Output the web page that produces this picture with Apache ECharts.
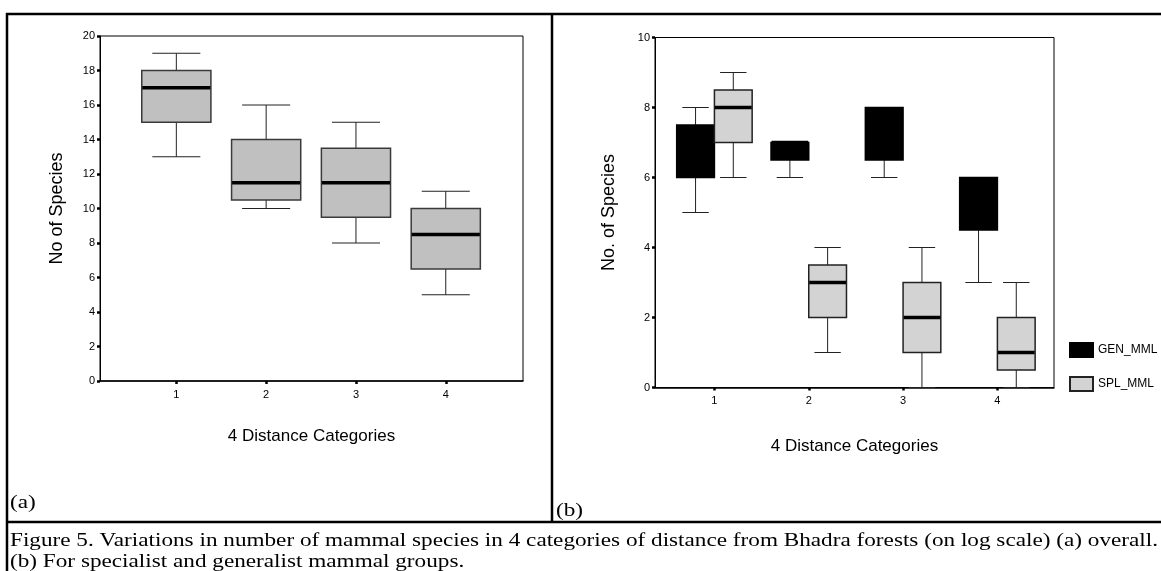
<!DOCTYPE html>
<html><head><meta charset="utf-8">
<script src="https://cdn.jsdelivr.net/npm/echarts@6/dist/echarts.min.js"></script>
<style>html,body{margin:0;padding:0;background:#fff}#c{width:1161px;height:571px}</style>
</head><body><div id="c"></div>
<script>
// ---- data ----
const categories = [1, 2, 3, 4];
const yTicksA = [0, 2, 4, 6, 8, 10, 12, 14, 16, 18, 20];
const yTicksB = [0, 2, 4, 6, 8, 10];
// (a) overall
const overallMin    = [13, 10, 8, 5];
const overallQ1     = [15, 10.5, 9.5, 6.5];
const overallMedian = [17, 11.5, 11.5, 8.5];
const overallQ3     = [18, 14, 13.5, 10];
const overallMax    = [19, 16, 15, 11];
// (b) generalists
const genMin    = [5, 6, 6, 3];
const genQ1     = [6, 6.5, 6.5, 4.5];
const genMedian = [7, 7, 7, 5];
const genQ3     = [7.5, 7, 8, 6];
const genMax    = [8, 7, 8, 6];
// (b) specialists
const splMin    = [6, 1, 0, 0];
const splQ1     = [7, 2, 1, 0.5];
const splMedian = [8, 3, 2, 1];
const splQ3     = [8.5, 3.5, 3, 2];
const splMax    = [9, 4, 4, 3];

const captionLine1 = 'Figure 5. Variations in number of mammal species in 4 categories of distance from Bhadra forests (on log scale) (a) overall.';
const captionLine2 = '(b) For specialist and generalist mammal groups.';

function rows(mn, q1, md, q3, mx) {
  return categories.map((c, i) => [c, mn[i], q1[i], md[i], q3[i], mx[i]]);
}

const SANS = '"Liberation Sans", Arial, sans-serif';
const SERIF = '"Liberation Serif", "Times New Roman", serif';

function boxRenderer(offset, boxFrac, capFrac, fill, stroke, medColor) {
  return function (params, api) {
    const c = api.value(0);
    const unit = api.size([1, 0])[0];
    const cx = api.coord([c, 0])[0] + offset * unit;
    const py = v => api.coord([c, v])[1];
    const mn = py(api.value(1)), q1 = py(api.value(2)), md = py(api.value(3)),
          q3 = py(api.value(4)), mx = py(api.value(5));
    const bw = boxFrac * unit, cw = capFrac * unit;
    const ln = (x1, y1, x2, y2, w, col) => ({ type: 'line', shape: { x1, y1, x2, y2 }, style: { stroke: col, lineWidth: w } });
    return {
      type: 'group', children: [
        ln(cx, q1, cx, mn, 1, '#222'),
        ln(cx, q3, cx, mx, 1, '#222'),
        ln(cx - cw / 2, mn, cx + cw / 2, mn, 1, '#222'),
        ln(cx - cw / 2, mx, cx + cw / 2, mx, 1, '#222'),
        { type: 'rect', shape: { x: cx - bw / 2, y: q3, width: bw, height: q1 - q3 }, style: { fill: fill, stroke: stroke, lineWidth: 1.5 } },
        ln(cx - bw / 2 + 0.5, md, cx + bw / 2 - 0.5, md, 3.5, medColor)
      ]
    };
  };
}

// stretch caption across the width like the reference
const CAP_SIZE = 19;
const cv = document.createElement('canvas').getContext('2d');
cv.font = CAP_SIZE + 'px ' + SERIF;
const capScale = 1148 / cv.measureText(captionLine1).width;

function xAxisCfg(gi, min, max, nameGap) {
  return {
    type: 'value', gridIndex: gi, min: min, max: max,
    name: '4 Distance Categories', nameLocation: 'middle', nameGap: nameGap,
    nameTextStyle: { fontSize: 17, color: '#000', fontFamily: SANS },
    axisLine: { show: true, lineStyle: { color: '#000', width: 1.5 } },
    axisTick: { show: true, customValues: categories, length: 3, lineStyle: { color: '#000', width: 2.5 } },
    axisLabel: { customValues: categories, fontSize: 11, color: '#000', margin: 8, fontFamily: SANS },
    splitLine: { show: false }
  };
}
function yAxisCfg(gi, ticks, name, nameGap) {
  return {
    type: 'value', gridIndex: gi, min: ticks[0], max: ticks[ticks.length - 1], interval: ticks[1] - ticks[0],
    name: name, nameLocation: 'middle', nameGap: nameGap, nameRotate: 90,
    nameTextStyle: { fontSize: 18, color: '#000', fontFamily: SANS },
    axisLine: { show: true, lineStyle: { color: '#000', width: 1 } },
    axisTick: { show: true, length: 3, lineStyle: { color: '#000', width: 2.5 } },
    axisLabel: { fontSize: 11, color: '#000', margin: 5, fontFamily: SANS },
    splitLine: { show: false }
  };
}

function label(text, x, y, size) {
  return { type: 'text', x: x, y: y, scaleX: capScale,
    style: { text: text, fontSize: size, fontFamily: 'Liberation Serif', fill: '#000', align: 'left', verticalAlign: 'middle' } };
}

const chart = echarts.init(document.getElementById('c'), null, { renderer: 'canvas' });
chart.setOption({
  animation: false,
  backgroundColor: '#fff',
  textStyle: { fontFamily: SANS },
  grid: [
    { left: 100, top: 36, width: 423, height: 345, show: true, borderColor: '#000', borderWidth: 1, backgroundColor: 'transparent' },
    { left: 655, top: 37.5, width: 399, height: 350, show: true, borderColor: '#000', borderWidth: 1, backgroundColor: 'transparent' }
  ],
  xAxis: [xAxisCfg(0, 0.15, 4.86, 47), xAxisCfg(1, 0.37, 4.6, 50)],
  yAxis: [yAxisCfg(0, yTicksA, 'No of Species', 34), yAxisCfg(1, yTicksB, 'No. of Species', 37)],
  legend: {
    data: ['GEN_MML', 'SPL_MML'], orient: 'vertical', left: 1064, top: 337,
    itemWidth: 23, itemHeight: 14, itemGap: 18, selectedMode: false, icon: 'rect',
    textStyle: { fontSize: 12, color: '#000', fontFamily: SANS }
  },
  series: [
    {
      name: 'Overall', type: 'custom', xAxisIndex: 0, yAxisIndex: 0, clip: false,
      encode: { x: 0, y: [1, 2, 3, 4, 5] },
      renderItem: boxRenderer(0, 0.77, 0.535, '#c0c0c0', '#3a3a3a', '#000'),
      data: rows(overallMin, overallQ1, overallMedian, overallQ3, overallMax)
    },
    {
      name: 'GEN_MML', type: 'custom', xAxisIndex: 1, yAxisIndex: 1, clip: false,
      encode: { x: 0, y: [1, 2, 3, 4, 5] },
      itemStyle: { color: '#000', borderColor: '#000', borderWidth: 1 },
      renderItem: boxRenderer(-0.2, 0.4, 0.28, '#000', '#000', '#000'),
      data: rows(genMin, genQ1, genMedian, genQ3, genMax)
    },
    {
      name: 'SPL_MML', type: 'custom', xAxisIndex: 1, yAxisIndex: 1, clip: false,
      encode: { x: 0, y: [1, 2, 3, 4, 5] },
      itemStyle: { color: '#d3d3d3', borderColor: '#222', borderWidth: 1 },
      renderItem: boxRenderer(0.2, 0.4, 0.28, '#d3d3d3', '#222', '#000'),
      data: rows(splMin, splQ1, splMedian, splQ3, splMax)
    }
  ],
  graphic: [
    { type: 'line', shape: { x1: 6, y1: 14, x2: 1161, y2: 14 }, style: { stroke: '#000', lineWidth: 2.5 } },
    { type: 'line', shape: { x1: 7, y1: 13, x2: 7, y2: 571 }, style: { stroke: '#000', lineWidth: 2.5 } },
    { type: 'line', shape: { x1: 552, y1: 13, x2: 552, y2: 522 }, style: { stroke: '#000', lineWidth: 2.5 } },
    { type: 'line', shape: { x1: 6, y1: 522, x2: 1161, y2: 522 }, style: { stroke: '#000', lineWidth: 2.5 } },
    label('(a)', 10, 503, CAP_SIZE),
    label('(b)', 556, 511, CAP_SIZE),
    label(captionLine1, 10, 541, CAP_SIZE),
    label(captionLine2, 10, 562, CAP_SIZE)
  ]
});
</script>
</body></html>
